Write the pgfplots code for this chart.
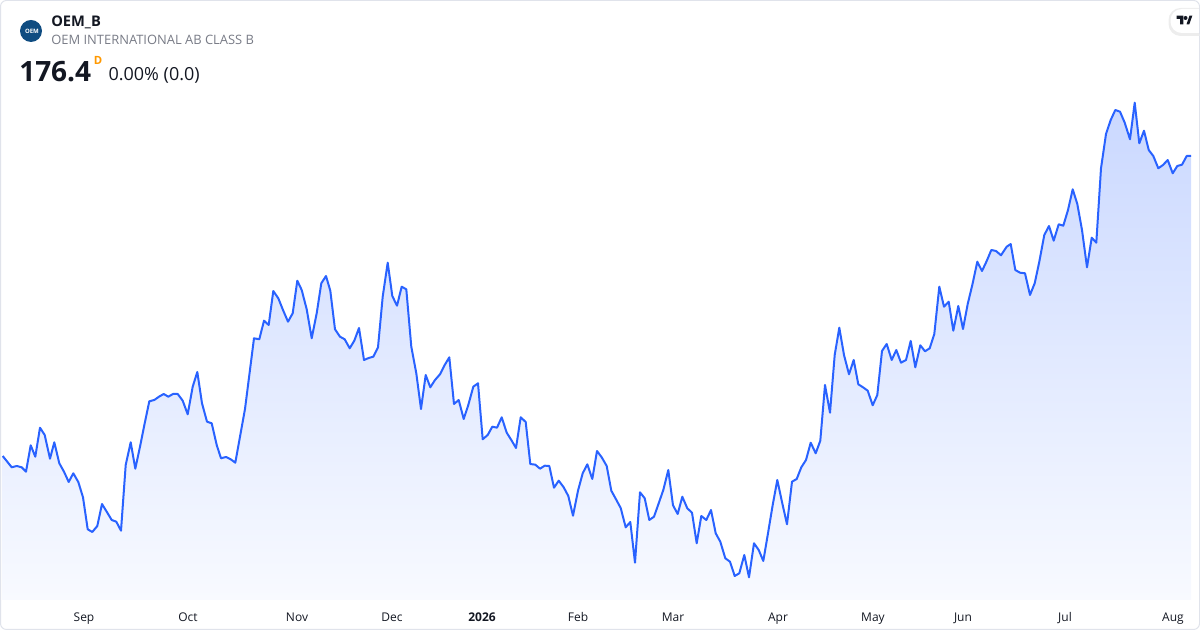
\documentclass[border=0pt]{standalone}
\usepackage{fontspec}
\setmainfont{Open Sans}
\usepackage{pgfplots}
\pgfplotsset{compat=1.18}
\usepackage{pgfplotstable}
\definecolor{tvblue}{HTML}{2962FF}
\definecolor{tvtext}{HTML}{131722}
\definecolor{tvgray}{HTML}{787B86}
\definecolor{tvborder}{HTML}{E0E3EB}
\definecolor{fillTop}{RGB}{202,216,255}
\definecolor{fillBot}{RGB}{248,250,255}
\definecolor{logoblue}{HTML}{0F4C81}
\definecolor{dorange}{HTML}{FF9800}

\pgfplotstableread{
x price
2.7 146.40
11.7 145.27
16.7 145.40
21.7 145.27
26 144.83
30.7 147.47
35.3 146.33
40 149.23
44.7 148.50
50 146.13
54.3 147.77
59.3 145.67
64 144.83
68.7 143.80
73.3 144.67
78.3 143.80
83 142.27
87.7 139.07
92.3 138.80
97.3 139.40
102 141.60
106.7 140.83
111.7 140.00
116.3 139.83
121 138.93
125.7 145.50
130.7 147.77
135.3 145.13
140 147.33
144.7 149.67
149.3 151.87
154.3 152.00
159 152.33
163.7 152.60
168.3 152.33
173 152.60
177.7 152.60
182.7 151.93
187.7 150.57
192.7 153.33
197.3 154.80
202 151.67
207 149.83
211.7 149.67
216.7 147.50
221 146.17
226 146.30
230.7 146.07
235.3 145.73
240 148.33
245 151.10
254 158.17
259.3 158.07
264 159.93
268.7 159.50
273.3 162.90
278.3 162.17
283 161.00
288 159.83
292.7 160.67
297.3 163.93
301.7 163.00
306.7 161.07
311.7 158.17
316.7 160.67
321.3 163.67
326 164.40
330.3 162.93
335 159.07
340 158.33
344.7 158.07
349.7 157.17
354.3 157.93
359 159.20
364 156.00
368.7 156.20
373.3 156.33
378 157.27
382.7 162.33
387.7 165.73
392.3 162.40
397 161.43
401.7 163.33
406.3 163.07
411.3 157.33
416.3 154.67
421 151.10
425.7 154.50
430.3 153.27
435 154.00
440 154.57
444.7 155.50
449.3 156.27
454 151.60
458.7 152.00
463.7 150.10
468.3 151.50
473.3 153.33
478 153.67
482.7 148.07
487.7 148.50
492.3 149.33
497 149.23
501.7 150.27
506.7 148.73
511.3 148.00
516 147.20
520.7 150.27
525.7 149.80
530.3 145.60
535.3 145.53
540 145.13
544.7 145.43
549.3 145.40
554 143.23
558.7 143.93
563.7 143.27
568.3 142.40
573 140.43
578 142.93
582.7 144.67
587.3 145.57
592.3 144.10
597 146.90
601.7 146.27
606.7 145.40
611.3 142.93
616 142.07
620.7 141.20
625.7 139.27
630.3 139.80
635 135.73
640 142.77
644.7 142.17
649.3 140.00
654 140.33
658.7 141.67
663.3 143.00
668.3 145.00
673 141.47
677.7 140.60
682.3 142.33
687.3 141.17
692 140.73
696.7 137.67
701.3 140.40
706.3 140.00
711 141.00
715.7 138.67
720.3 137.83
725.3 136.17
730 135.83
734.7 134.40
739.3 134.67
744.3 136.50
749 134.27
754 137.67
758.7 137.00
763.3 135.90
768 138.67
772.7 141.50
777.3 144.00
782 141.80
787 139.57
792 143.83
796.7 144.10
801.3 145.27
806 146.00
810.7 147.73
815.7 146.67
820.3 147.93
825 153.50
830 150.73
834.7 156.50
839.3 159.23
844 156.50
849 154.57
853.7 156.00
858.3 153.57
863 153.27
867.7 152.93
872.7 151.47
877.3 152.50
882 156.90
886.7 157.60
891.7 156.00
896.3 157.00
901 155.73
906 156.00
910.7 157.90
915.3 155.27
920.3 157.47
925 156.87
929.7 157.17
934.3 158.60
939.3 163.33
944 161.33
948.7 161.83
953.3 158.93
958.3 161.40
963 159.10
967.7 161.60
972.3 163.50
977.3 165.83
982 164.90
986.7 165.90
991.3 167.00
996 166.90
1001 166.47
1006.7 167.33
1010.7 167.60
1015.3 165.00
1020 164.73
1025 164.67
1030 162.50
1034.7 163.67
1039.3 165.83
1044.3 168.50
1049 169.40
1053.7 167.93
1058.7 169.57
1063.3 169.43
1068 171.00
1072.7 173.07
1077.3 171.60
1082 169.00
1087 165.27
1091.7 168.23
1096.3 167.73
1101 175.17
1106 178.60
1110.7 180.00
1115.3 181.00
1120 180.83
1124.7 179.73
1130 178.07
1134.7 181.73
1139.3 177.67
1144 178.93
1148.7 177.00
1153.3 176.40
1158.3 175.17
1163 175.50
1167.7 176.00
1172.7 174.67
1177.3 175.40
1182 175.53
1186.7 176.40
1191 176.40
}\pricedata

\begin{document}
\begin{tikzpicture}
\begin{axis}[
  scale only axis, width=900pt, height=472.5pt,
  xmin=0, xmax=1200, ymin=129, ymax=192,
  axis line style={draw=none},
  tick style={draw=none},
  ytick=\empty,
  xtick={84,188,297,392,482,578,673,778,873,963,1065,1173},
  xticklabels={Sep,Oct,Nov,Dec,\textbf{2026},Feb,Mar,Apr,May,Jun,Jul,Aug},
  xticklabel style={anchor=base, yshift=6pt, inner sep=0pt,
    font=\fontsize{9}{10}\selectfont, text=tvtext},
  clip=false,
]
\addplot[draw=none, top color=fillTop, bottom color=fillBot]
  table[x=x, y=price]{\pricedata} -- (axis cs:1191,132) -- (axis cs:2.7,132) -- cycle;
\addplot[tvblue, line width=1.5pt, line join=round, mark=none]
  table[x=x, y=price]{\pricedata};
\end{axis}
\begin{scope}[shift={(current axis.north west)}, x=0.75pt, y=-0.75pt]
  \draw[tvborder, line width=0.75pt, rounded corners=4.5pt] (0.5,0.5) rectangle (1199.5,629.5);
  % logo
  \fill[logoblue] (31,31) circle (8.25pt);
  \node[text=white, font=\bfseries\fontsize{4.5}{5}\selectfont, inner sep=0] at (32,31) {OEM};
  \node[anchor=base west, inner sep=0, text=tvtext, font=\bfseries\fontsize{11}{12}\selectfont] at (51,26.7) {OEM\_B};
  \node[anchor=base west, inner sep=0, text=tvgray, font=\fontsize{9.7}{11}\selectfont] at (51,45) {OEM INTERNATIONAL AB CLASS B};
  \node[anchor=base west, inner sep=0, text=tvtext, font=\bfseries\fontsize{21}{24}\selectfont] at (19,81.7) {176.4};
  \node[anchor=base west, inner sep=0, text=dorange, font=\bfseries\fontsize{8.5}{9}\selectfont] at (93.5,64.5) {D};
  \node[anchor=base west, inner sep=0, text=tvtext, font=\fontsize{13.5}{15}\selectfont] at (108.3,81) {0.00\% (0.0)};
  % TradingView badge
  \begin{scope}
    \clip (0,0) rectangle (1199.5,630);
    \fill[black!7, rounded corners=9pt] (1168.5,8) rectangle (1215,36);
    \fill[white, rounded corners=8.5pt] (1170.5,9) rectangle (1215,33);
  \end{scope}
  \fill[tvtext] (1176.5,15.7) -- (1183.3,15.7) -- (1183.3,24.3) -- (1180.2,24.3) -- (1180.2,18.8) -- (1176.5,18.8) -- cycle;
  \fill[tvtext] (1185.5,18) circle (1.5pt);
  \fill[tvtext] (1186.5,24.3) -- (1189.5,15.7) -- (1192.3,15.7) -- (1189.3,24.3) -- cycle;
  \draw[tvborder, line width=0.75pt] (1199.5,34) -- (1199.5,8);
\end{scope}
\pgfresetboundingbox
\useasboundingbox (current axis.south west) rectangle (current axis.north east);
\end{tikzpicture}
\end{document}
